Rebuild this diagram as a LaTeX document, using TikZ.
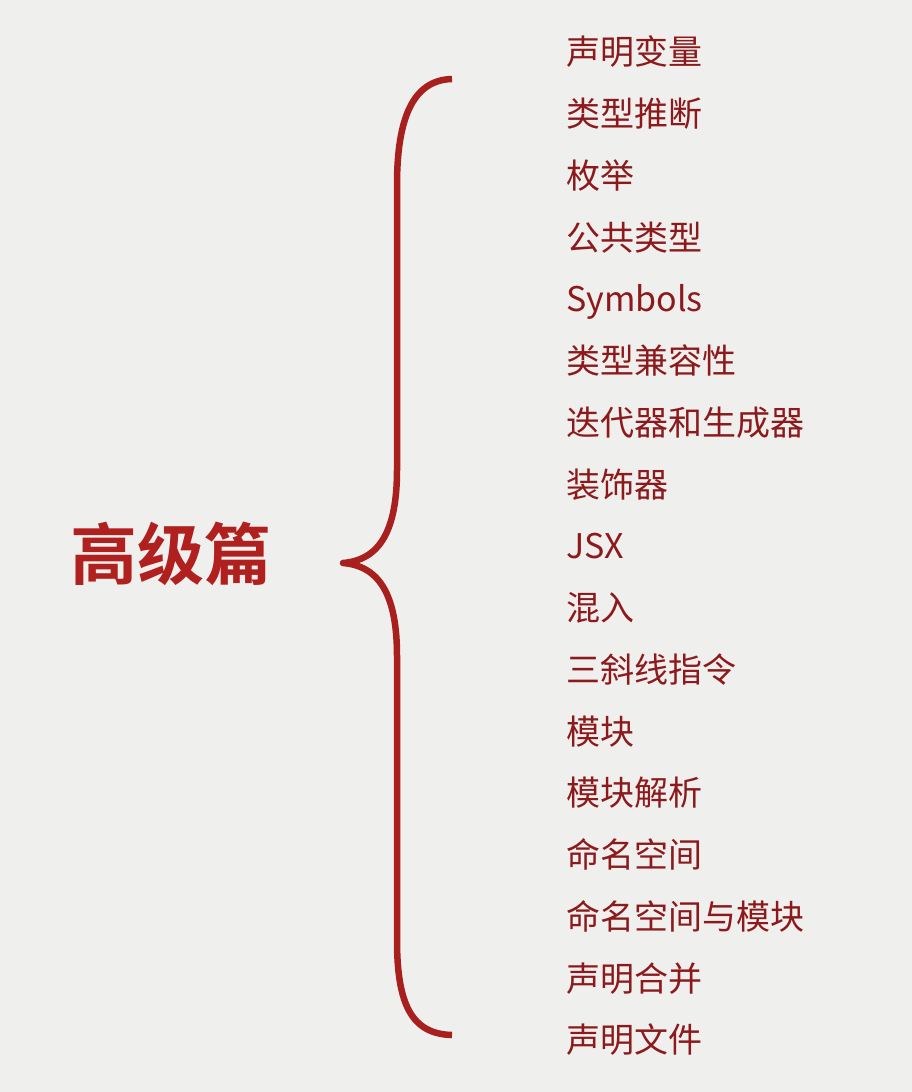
\documentclass[tikz,border=0pt]{standalone}
\usepackage{fontspec}
\setmainfont{Noto Sans CJK SC}
\newfontfamily\titlefont{Noto Sans CJK SC Bold}
\usetikzlibrary{positioning}

\definecolor{paper}{HTML}{EFEFED}
\definecolor{bracered}{HTML}{A8201E}
\definecolor{topicred}{HTML}{B0201E}
\definecolor{leafred}{HTML}{8C1A1C}

\begin{document}
\begin{tikzpicture}[
		x=1pt, y=-1pt,
		topic/.style = {text=topicred, font=\titlefont\fontsize{67}{70}\selectfont, inner sep=0pt},
		leaf/.style  = {anchor=west, text=leafred, font=\fontsize{34}{38}\selectfont, inner sep=0pt, text height=0.88em, text depth=0.12em},
		brace/.style = {draw=bracered, line width=6.5pt, line cap=butt, line join=round}]
		
		% background sheet
		\fill[paper] (0,0) rectangle (912,1092);
		\useasboundingbox (0,0) rectangle (912,1092);
		
		% the heading on the left
		\node[topic] (adv) at (171,554) {高级篇};
		
		% the list of topics, one per line
		\foreach \name [count=\i] in {声明变量,类型推断,枚举,公共类型,Symbols,类型兼容性,迭代器和生成器,装饰器,JSX,混入,三斜线指令,模块,模块解析,命名空间,命名空间与模块,声明合并,声明文件}
		\node[leaf] (t\i) at (566,{61+61.75*(\i-1)}) {\name};
		
		% points of the brace
		\coordinate (btop) at (452,79);
		\coordinate (bbot) at (452,1035);
		\coordinate (tip) at (343,563);
		
		% the brace itself
		\draw[brace] (btop) .. controls (412,80) and (397,120) .. (397,185)
		-- (397,470) .. controls (397,530) and (380,560) .. (tip)
		.. controls (380,566) and (397,596) .. (397,656)
		-- (397,940) .. controls (397,1005) and (412,1034) .. (bbot);
		
	\end{tikzpicture}
\end{document}
